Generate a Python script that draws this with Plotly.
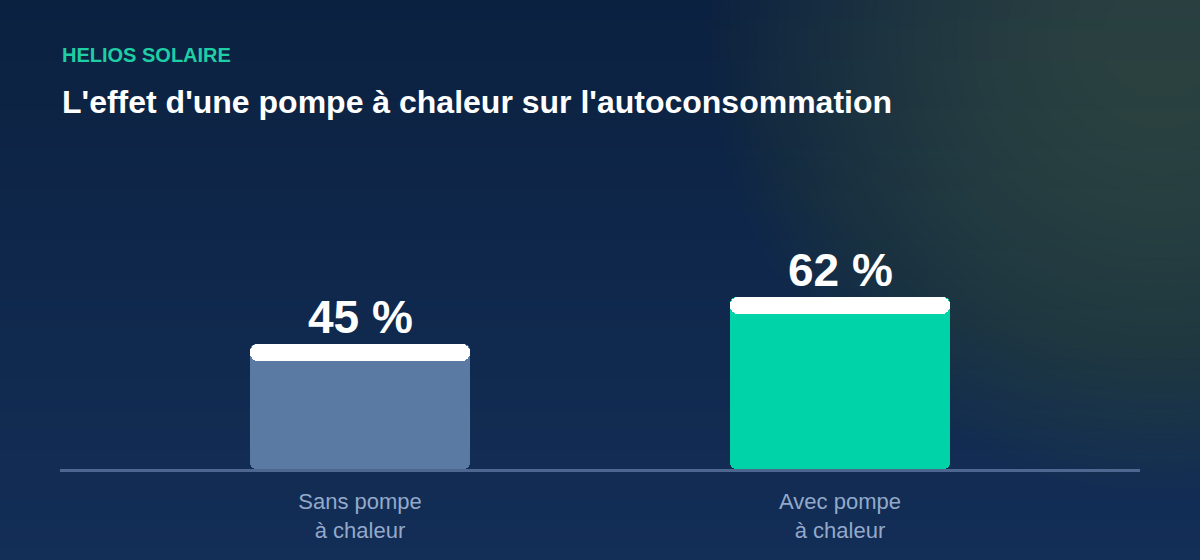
import plotly.graph_objects as go
import numpy as np

# ---- data ----
categories = ["Sans pompe<br>à chaleur", "Avec pompe<br>à chaleur"]
values = [45, 62]
value_labels = ["45 %", "62 %"]
bar_colors = ["#5b7aa3", "#00d3a7"]
brand = "HELIOS SOLAIRE"
title = "L'effet d'une pompe à chaleur sur l'autoconsommation"

W, H = 1200, 560
PLOT_L, PLOT_R = 60, 1140
PLOT_B, PLOT_T = 469, 191
Y_MAX = 100
px_per_unit = (PLOT_B - PLOT_T) / Y_MAX
CAP_PX = 17.5
cap = CAP_PX / px_per_unit

x_idx = list(range(len(categories)))

fig = go.Figure()

# main bar body: drawn downward from value to 0 so the rounded end is at the bottom
fig.add_trace(go.Bar(
    x=x_idx, base=values, y=[-v for v in values],
    marker=dict(color=bar_colors, cornerradius=6, line=dict(width=0)),
    width=0.458, hoverinfo="skip", showlegend=False,
))
# white cap
fig.add_trace(go.Bar(
    x=x_idx, base=[v - cap for v in values], y=[cap] * len(values),
    marker=dict(color="#ffffff", cornerradius=8, line=dict(width=0)),
    width=0.458, hoverinfo="skip", showlegend=False,
))

shapes = []
# background vertical gradient
top_c = np.array([11, 33, 64])
bot_c = np.array([19, 46, 87])
n_bands = 56
for i in range(n_bands):
    t = (i + 0.5) / n_bands
    c = top_c + (bot_c - top_c) * t
    shapes.append(dict(
        type="rect", xref="paper", yref="paper", layer="below",
        x0=0, x1=1, y0=1 - (i + 1) / n_bands, y1=1 - i / n_bands + 0.001,
        fillcolor="rgb(%d,%d,%d)" % tuple(np.round(c)), line=dict(width=0),
    ))
# warm glow top right
cx, cy, R = 1160, 40, 450
N = 30
alpha = 1 - (1 - 0.36) ** (1 / N)
for i in range(N, 0, -1):
    r = R * (i / N) ** 0.6
    shapes.append(dict(
        type="circle", xref="paper", yref="paper", layer="below",
        x0=(cx - r) / W, x1=(cx + r) / W,
        y0=1 - (cy + r) / H, y1=1 - (cy - r) / H,
        fillcolor="rgb(158,104,38)", opacity=alpha, line=dict(width=0),
    ))

annotations = [
    dict(text="<b>%s</b>" % brand, xref="paper", yref="paper", x=60 / W, y=1 - 55 / H,
         xanchor="left", yanchor="middle", showarrow=False,
         font=dict(family="Liberation Sans, Arial, sans-serif", size=20, color="#1ecfa6")),
    dict(text="<b>%s</b>" % title, xref="paper", yref="paper", x=60 / W, y=1 - 102 / H,
         xanchor="left", yanchor="middle", showarrow=False,
         font=dict(family="Liberation Sans, Arial, sans-serif", size=32, color="#ffffff")),
]
for xi, v, lab in zip(x_idx, values, value_labels):
    annotations.append(dict(
        text="<b>%s</b>" % lab, x=xi, y=v, xref="x", yref="y",
        xanchor="center", yanchor="bottom", yshift=-1, showarrow=False,
        font=dict(family="Liberation Sans, Arial, sans-serif", size=46, color="#ffffff"),
    ))

fig.update_layout(
    width=W, height=H,
    margin=dict(l=0, r=0, t=0, b=0),
    paper_bgcolor="#0f2a4f", plot_bgcolor="rgba(0,0,0,0)",
    barmode="overlay", bargap=0,
    shapes=shapes, annotations=annotations,
    showlegend=False,
    xaxis=dict(
        domain=[PLOT_L / W, PLOT_R / W], range=[-0.625, 1.625],
        tickmode="array", tickvals=x_idx, ticktext=categories,
        showgrid=False, zeroline=False, showline=True,
        linecolor="#4d6791", linewidth=3, ticks="", ticklabelstandoff=11,
        tickfont=dict(family="Liberation Sans, Arial, sans-serif", size=22, color="#93a9ca"),
        fixedrange=True,
    ),
    yaxis=dict(
        domain=[1 - PLOT_B / H, 1 - PLOT_T / H], range=[0, Y_MAX],
        showgrid=False, zeroline=False, showline=False, showticklabels=False,
        fixedrange=True,
    ),
)

fig.write_html("out.html", config={"displayModeBar": False})
